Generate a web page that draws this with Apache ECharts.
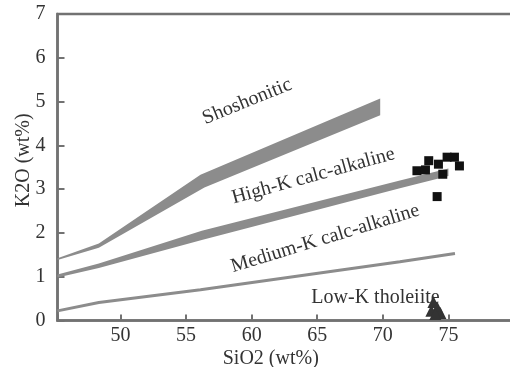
<!DOCTYPE html>
<html><head><meta charset="utf-8">
<script src="https://cdn.jsdelivr.net/npm/echarts@6/dist/echarts.min.js"></script>
<style>html,body{margin:0;padding:0;background:#fff}#c{width:510px;height:367px}</style>
</head><body><div id="c"></div>
<script>
// tick labels
const xTicks = [50, 55, 60, 65, 70, 75];
const yTicks = [0, 1, 2, 3, 4, 5, 6, 7];
// field boundaries (SiO2, K2O)
const upperTop = [[45.2, 1.42], [48.35, 1.76], [56.1, 3.33], [69.8, 5.07]];
const upperBottom = [[45.2, 1.38], [48.35, 1.66], [56.4, 3.04], [69.8, 4.69]];
const middleTop = [[45.2, 1.05], [48.35, 1.3], [56.2, 2.05], [71.3, 3.2], [75.0, 3.47]];
const middleBottom = [[45.2, 0.98], [48.35, 1.2], [56.2, 1.84], [71.3, 3.02], [75.0, 3.3]];
const lowerLine = [[45.2, 0.22], [48.35, 0.41], [56.1, 0.70], [71.3, 1.34], [75.5, 1.53]];
// samples
const highKSamples = [[72.6, 3.42], [73.25, 3.44], [73.5, 3.65], [74.24, 3.57], [74.57, 3.34], [74.9, 3.73], [75.46, 3.73], [75.84, 3.53], [74.14, 2.83]];
const lowKSamples = [[73.86, 0.42], [74.16, 0.29], [73.7, 0.22], [74.39, 0.17], [74.0, 0.15]];
// field names
const fieldNames = ['Shoshonitic', 'High-K calc-alkaline', 'Medium-K calc-alkaline', 'Low-K tholeiite'];

const FONT = '"Liberation Serif", "Times New Roman", serif';
const AX = '#727272';
const BAND = '#8c8c8c';
const TXT = '#333';
const labelAnchors = [[59.66, 5.0, 22], [64.7, 3.3, 15.5], [65.6, 1.87, 17], [69.44, 0.51, 0]];

function bandSeries(top, bottom) {
  return {
    type: 'custom', silent: true, z: 1,
    data: [[top[0][0], top[0][1]]],
    renderItem: function (params, api) {
      const pts = top.concat(bottom.slice().reverse()).map(p => api.coord(p));
      return { type: 'polygon', shape: { points: pts }, style: { fill: BAND } };
    }
  };
}

const chart = echarts.init(document.getElementById('c'), null, { renderer: 'canvas' });
chart.setOption({
  animation: false,
  backgroundColor: '#fff',
  grid: { left: 57.5, right: -4, top: 14, bottom: 46.5, outerBoundsMode: 'none', containLabel: false, show: true, borderColor: AX, borderWidth: 2.5, backgroundColor: 'transparent' },
  xAxis: {
    type: 'value', min: 45.2, max: 80, splitNumber: 7,
    splitLine: { show: false },
    axisLine: { show: true, lineStyle: { color: AX, width: 2.5 } },
    axisTick: { show: true, inside: true, length: 6, lineStyle: { color: AX, width: 2 } },
    axisLabel: { formatter: v => xTicks.includes(v) ? String(v) : '', color: TXT, fontSize: 20, fontFamily: FONT, margin: 5 },
    name: 'SiO2 (wt%)', nameLocation: 'middle', nameGap: 28, nameMoveOverlap: false,
    nameTextStyle: { color: TXT, fontSize: 20, fontFamily: FONT, padding: [0, 30, 0, 0] }
  },
  yAxis: {
    type: 'value', min: 0, max: 7, interval: 1,
    splitLine: { show: false },
    axisLine: { show: true, lineStyle: { color: AX, width: 2.5 } },
    axisTick: { show: true, inside: true, length: 7, lineStyle: { color: AX, width: 2 } },
    axisLabel: { formatter: v => yTicks.includes(v) ? String(v) : '', color: TXT, fontSize: 20, fontFamily: FONT, margin: 12 },
    name: 'K2O (wt%)', nameLocation: 'middle', nameGap: 24, nameMoveOverlap: false,
    nameTextStyle: { color: TXT, fontSize: 20, fontFamily: FONT, padding: [0, 0, 0, 14] }
  },
  series: [
    bandSeries(upperTop, upperBottom),
    bandSeries(middleTop, middleBottom),
    {
      type: 'line', data: lowerLine, showSymbol: false, silent: true, z: 1,
      lineStyle: { color: BAND, width: 3 }
    },
    {
      type: 'custom', silent: true, z: 2,
      data: labelAnchors.map((a, i) => [a[0], a[1], a[2], i]),
      renderItem: function (params, api) {
        const p = api.coord([api.value(0), api.value(1)]);
        return {
          type: 'text', x: p[0], y: p[1], rotation: api.value(2) * Math.PI / 180,
          style: { text: fieldNames[api.value(3)], fill: TXT, fontSize: 20, fontFamily: FONT, align: 'center', verticalAlign: 'middle' }
        };
      }
    },
    {
      type: 'scatter', data: highKSamples, symbol: 'rect', symbolSize: 9, z: 3,
      itemStyle: { color: '#111', opacity: 1 }
    },
    {
      type: 'scatter', data: lowKSamples, symbol: 'triangle', symbolSize: 12, z: 3,
      itemStyle: { color: '#333', opacity: 1 }
    }
  ]
});
</script>
</body></html>
